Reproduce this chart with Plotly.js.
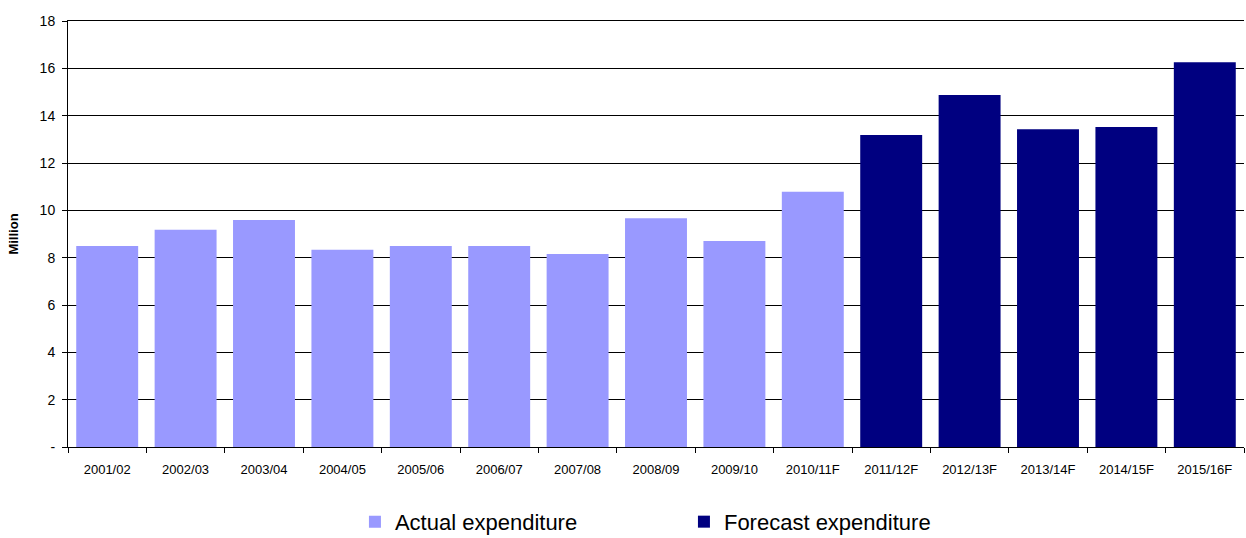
<!DOCTYPE html>
<html><head><meta charset="utf-8">
<script src="https://cdn.plot.ly/plotly-3.0.1.min.js"></script>
<style>body{margin:0;background:#fff}#chart{width:1246px;height:538px}</style>
</head><body><div id="chart"></div>
<script>
const categories = ["2001/02","2002/03","2003/04","2004/05","2005/06","2006/07","2007/08","2008/09","2009/10","2010/11F","2011/12F","2012/13F","2013/14F","2014/15F","2015/16F"];
const actualValues = [8.49, 9.18, 9.59, 8.33, 8.49, 8.49, 8.15, 9.67, 8.70, 10.78, null, null, null, null, null];
const forecastValues = [null, null, null, null, null, null, null, null, null, null, 13.18, 14.87, 13.43, 13.52, 16.26];
const yTickVals = [0,2,4,6,8,10,12,14,16,18];
const yTickText = ["-","2","4","6","8","10","12","14","16","18"];

const traces = [
  {type:"bar", name:"Actual expenditure", x:categories, y:actualValues, marker:{color:"#9999FF"}},
  {type:"bar", name:"Forecast expenditure", x:categories, y:forecastValues, marker:{color:"#000080"}}
];
const layout = {
  width:1246, height:538,
  margin:{l:68, r:2, t:21, b:91},
  barmode:"overlay", bargap:0.21,
  paper_bgcolor:"#fff", plot_bgcolor:"#fff",
  font:{family:"Liberation Sans, Arial, sans-serif", color:"#000", size:13},
  xaxis:{type:"category", showline:true, linecolor:"#000", linewidth:1, mirror:true,
    ticks:"outside", tickson:"boundaries", ticklen:5, tickcolor:"#000",
    tickfont:{size:13}, showgrid:false, ticklabelstandoff:10, automargin:false},
  yaxis:{range:[0,18], tickvals:yTickVals, ticktext:yTickText, showline:true, linecolor:"#000", linewidth:1,
    ticks:"outside", ticklen:5, tickcolor:"#000", gridcolor:"#000", gridwidth:1,
    tickfont:{size:14}, zeroline:false, ticklabelstandoff:4, automargin:false,
    title:{text:"<b>Million</b>", font:{size:13}, standoff:18}},
  showlegend:true,
  legend:{orientation:"h", x:0.244, xanchor:"left", yref:"container", y:0.03, yanchor:"middle",
    font:{family:"Liberation Sans, Arial, sans-serif", size:22}, entrywidth:284, traceorder:"normal"}
};
Plotly.newPlot("chart", traces, layout, {displayModeBar:false});
</script></body></html>
